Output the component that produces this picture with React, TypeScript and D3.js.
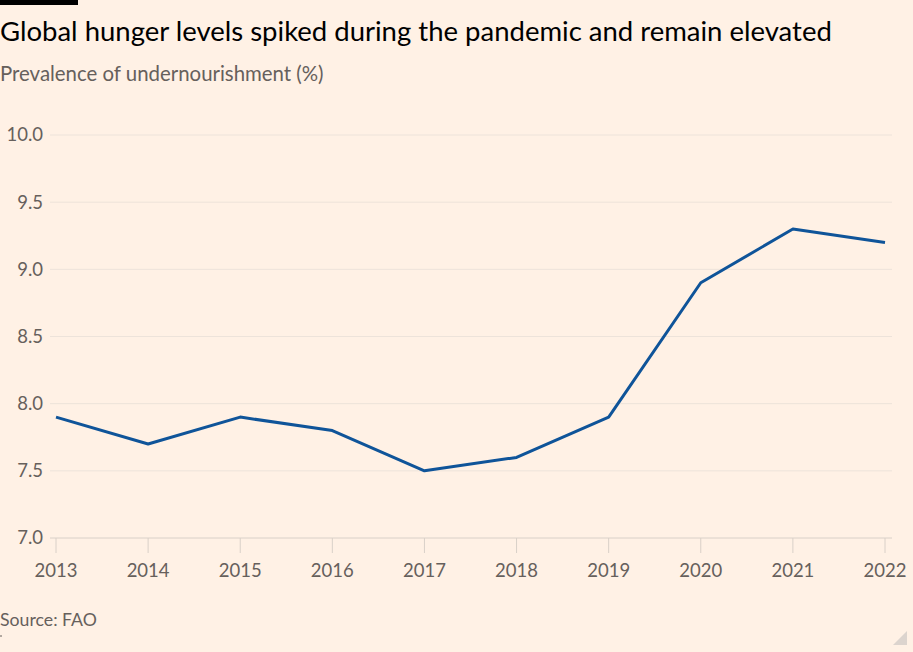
import React from "react";
import * as d3 from "d3";

const years = [2013, 2014, 2015, 2016, 2017, 2018, 2019, 2020, 2021, 2022];
const values = [7.9, 7.7, 7.9, 7.8, 7.5, 7.6, 7.9, 8.9, 9.3, 9.2];
const yTicks = [7.0, 7.5, 8.0, 8.5, 9.0, 9.5, 10.0];

const W = 913;
const H = 652;
const FONT = "Lato, 'Open Sans', sans-serif";

export default function App() {
  const x = d3.scaleLinear().domain([2013, 2022]).range([56, 885]);
  const y = d3.scaleLinear().domain([7, 10]).range([538, 135]);
  const line = d3
    .line<number>()
    .x((_, i) => x(years[i]))
    .y((d) => y(d));

  return (
    <svg
      width={W}
      height={H}
      style={{ position: "absolute", left: 0, top: 0, fontFamily: FONT }}
    >
      <rect width={W} height={H} fill="#fff1e5" />
      <rect x={0} y={0} width={78} height={5} fill="#000" />
      <text x={0} y={41} fontSize={27.5} fill="#000">
        Global hunger levels spiked during the pandemic and remain elevated
      </text>
      <text x={0} y={81} fontSize={20.4} fill="#66605c">
        Prevalence of undernourishment (%)
      </text>
      {yTicks.map((t) => (
        <g key={t}>
          <line
            x1={50}
            x2={892}
            y1={y(t)}
            y2={y(t)}
            stroke={t === 7 ? "#d9d0c8" : "#ede3da"}
            strokeWidth={1}
          />
          <text
            x={43}
            y={y(t)}
            dy="0.35em"
            textAnchor="end"
            fontSize={18.5}
            fill="#66605c"
          >
            {t.toFixed(1)}
          </text>
        </g>
      ))}
      {years.map((yr) => (
        <g key={yr}>
          <line
            x1={x(yr)}
            x2={x(yr)}
            y1={538}
            y2={553}
            stroke="#d9d0c8"
            strokeWidth={1}
          />
          <text
            x={x(yr)}
            y={577}
            textAnchor="middle"
            fontSize={18.5}
            fill="#66605c"
          >
            {yr}
          </text>
        </g>
      ))}
      <path
        d={line(values) || ""}
        fill="none"
        stroke="#0f5499"
        strokeWidth={3}
        strokeLinejoin="round"
      />
      <text x={0} y={626} fontSize={17.7} fill="#66605c">
        Source: FAO
      </text>
      <line x1={0} x2={2} y1={636} y2={636} stroke="#66605c" strokeWidth={1} />
      <path d="M907,631 L907,645 L893,645 Z" fill="#dcd4ce" />
    </svg>
  );
}
